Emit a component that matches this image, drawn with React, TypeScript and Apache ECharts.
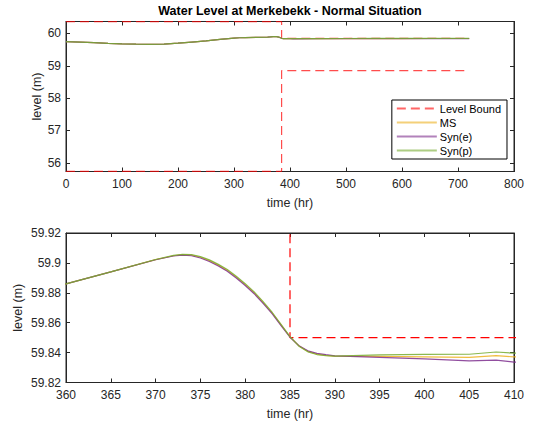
import React, { useEffect, useRef } from "react";
import * as echarts from "echarts";

// ---- data ----
const hours = [0, 25, 50, 75, 100, 125, 150, 175, 200, 225, 250, 275, 300, 310, 320, 340, 360, 365, 370, 372, 373, 374, 375, 376, 377, 378, 379, 380, 381, 382, 383, 384, 385, 386, 387, 388, 389, 390, 395, 400, 405, 408, 410, 450, 500, 550, 600, 650, 700, 720];

const msLevel = [59.745, 59.73, 59.715, 59.695, 59.68, 59.668, 59.662, 59.672, 59.7, 59.735, 59.77, 59.815, 59.855, 59.868, 59.874, 59.879, 59.886, 59.894, 59.9022, 59.9048, 59.9055, 59.9052, 59.9038, 59.9015, 59.8985, 59.895, 59.8905, 59.8855, 59.88, 59.8735, 59.8665, 59.8585, 59.8505, 59.8445, 59.8408, 59.839, 59.8382, 59.8376, 59.8375, 59.8372, 59.8368, 59.838, 59.8371, 59.84, 59.842, 59.843, 59.843, 59.844, 59.844, 59.844];

const synELevel = [59.745, 59.73, 59.715, 59.695, 59.68, 59.668, 59.662, 59.672, 59.7, 59.735, 59.77, 59.815, 59.855, 59.868, 59.874, 59.879, 59.886, 59.894, 59.9021, 59.9046, 59.9052, 59.9048, 59.9033, 59.9009, 59.8979, 59.8944, 59.8899, 59.8849, 59.8794, 59.8729, 59.866, 59.8581, 59.8503, 59.8446, 59.8412, 59.8395, 59.8386, 59.8378, 59.8368, 59.8358, 59.8345, 59.835, 59.8336, 59.836, 59.839, 59.84, 59.841, 59.842, 59.842, 59.842];

const synPLevel = [59.745, 59.73, 59.715, 59.695, 59.68, 59.668, 59.662, 59.672, 59.7, 59.735, 59.77, 59.815, 59.855, 59.868, 59.874, 59.879, 59.886, 59.894, 59.9023, 59.905, 59.9057, 59.9055, 59.9042, 59.902, 59.899, 59.8956, 59.8911, 59.8861, 59.8806, 59.8741, 59.867, 59.8589, 59.8507, 59.8443, 59.8405, 59.8387, 59.838, 59.8377, 59.8385, 59.8388, 59.8389, 59.8404, 59.8396, 59.842, 59.844, 59.845, 59.845, 59.846, 59.846, 59.846];

const boundTime = [0, 385, 385, 720];
const upperBound = [60.365, 60.365, 59.85, 59.85];
const lowerBound = [55.735, 55.735, 58.85, 58.85];

const topYTicks = [56, 57, 58, 59, 60];
const bottomYTicks = [59.82, 59.84, 59.86, 59.88, 59.9, 59.92];

const seriesNames = ["Level Bound", "MS", "Syn(e)", "Syn(p)"];
const seriesColors = ["#ff0000", "#EDB120", "#7E2F8E", "#77AC30"];

const FONT = "'Liberation Sans', Arial, Helvetica, sans-serif";
const AX = "#262626";

const zip = (xs: number[], ys: number[]) => xs.map((x, i) => [x, ys[i]]);
const fmt = (v: number) => String(Math.round(v * 1000) / 1000);

export default function App() {
  const ref = useRef<HTMLDivElement>(null);
  useEffect(() => {
    document.body.style.margin = "0";
    if (!ref.current) return;
    const chart = echarts.init(ref.current, null, { renderer: "svg" });

    const mkX = (grid: number, min: number, max: number, interval: number, main: boolean) => ({
      type: "value",
      gridIndex: grid,
      position: main ? "bottom" : "top",
      min,
      max,
      interval,
      name: main ? "time (hr)" : "",
      nameLocation: "middle",
      nameGap: 25,
      nameMoveOverlap: false,
      nameTextStyle: { color: AX, fontSize: 12.5, fontFamily: FONT },
      axisLine: { show: true, onZero: false, lineStyle: { color: AX, width: 1 } },
      axisTick: { show: true, inside: true, length: 4, lineStyle: { color: AX } },
      axisLabel: { show: main, color: AX, fontSize: 12, fontFamily: FONT, margin: 6 },
      splitLine: { show: false },
    });
    const mkY = (grid: number, min: number, max: number, ticks: number[], main: boolean, gap: number) => ({
      type: "value",
      gridIndex: grid,
      position: main ? "left" : "right",
      min,
      max,
      name: main ? "level (m)" : "",
      nameLocation: "middle",
      nameGap: gap,
      nameRotate: 90,
      nameMoveOverlap: false,
      nameTextStyle: { color: AX, fontSize: 12.5, fontFamily: FONT },
      axisLine: { show: true, onZero: false, lineStyle: { color: AX, width: 1 } },
      axisTick: { show: true, inside: true, length: 4, customValues: ticks, lineStyle: { color: AX } },
      axisLabel: { show: main, color: AX, fontSize: 12, fontFamily: FONT, margin: 5, customValues: ticks, formatter: (v: number) => fmt(v) },
      splitLine: { show: false },
    });

    const series: any[] = [];
    [0, 1].forEach((g) => {
      const xi = g * 2;
      const yi = g * 2;
      const boundStyle = { color: "#ff0000", width: 1.2, type: [9, 5], opacity: g === 0 ? 0.7 : 1 };
      series.push({ name: seriesNames[0], type: "line", xAxisIndex: xi, yAxisIndex: yi, data: zip(boundTime, upperBound), symbol: "none", clip: g === 1, lineStyle: boundStyle, itemStyle: { color: "#ff0000" }, z: 3 });
      series.push({ name: seriesNames[0], type: "line", xAxisIndex: xi, yAxisIndex: yi, data: zip(boundTime, lowerBound), symbol: "none", clip: g === 1, lineStyle: boundStyle, itemStyle: { color: "#ff0000" }, z: 3 });
      [msLevel, synELevel, synPLevel].forEach((vals, k) => {
        series.push({
          name: seriesNames[k + 1],
          type: "line",
          xAxisIndex: xi,
          yAxisIndex: yi,
          data: zip(hours, vals),
          symbol: "none",
          lineStyle: { color: seriesColors[k + 1], width: 1.2, opacity: 0.85 },
          itemStyle: { color: seriesColors[k + 1] },
          z: 4 + k,
        });
      });
    });

    chart.setOption({
      animation: false,
      textStyle: { fontFamily: FONT },
      graphic: [
        {
          type: "text",
          x: 290,
          y: 4,
          style: { text: "Water Level at Merkebekk - Normal Situation", font: `bold 12.5px ${FONT}`, fill: "#000", textAlign: "center", textVerticalAlign: "top" },
        },
      ],
      grid: [
        { left: 66, right: 20, top: 21.5, height: 150, show: true, borderColor: AX, borderWidth: 1, backgroundColor: "#fff" },
        { left: 66, right: 20, top: 233, height: 149.5, show: true, borderColor: AX, borderWidth: 1, backgroundColor: "#fff" },
      ],
      legend: {
        data: seriesNames,
        orient: "vertical",
        right: 27,
        top: 100,
        itemWidth: 40,
        itemHeight: 12,
        itemGap: 3,
        padding: [3, 6, 3, 4],
        borderColor: "#000",
        borderWidth: 1,
        backgroundColor: "#fff",
        textStyle: { color: "#000", fontSize: 11, fontFamily: FONT, padding: [0, 0, 0, -2] },
        lineStyle: { opacity: 0.6 },
        itemStyle: { opacity: 0 },
        z: 10,
      },
      xAxis: [
        mkX(0, 0, 800, 100, true),
        mkX(0, 0, 800, 100, false),
        mkX(1, 360, 410, 5, true),
        mkX(1, 360, 410, 5, false),
      ],
      yAxis: [
        mkY(0, 55.73, 60.37, topYTicks, true, 23),
        mkY(0, 55.73, 60.37, topYTicks, false, 0),
        mkY(1, 59.82, 59.92, bottomYTicks, true, 42),
        mkY(1, 59.82, 59.92, bottomYTicks, false, 0),
      ],
      series,
    });
    return () => chart.dispose();
  }, []);
  return <div ref={ref} style={{ width: 534, height: 425 }} />;
}
